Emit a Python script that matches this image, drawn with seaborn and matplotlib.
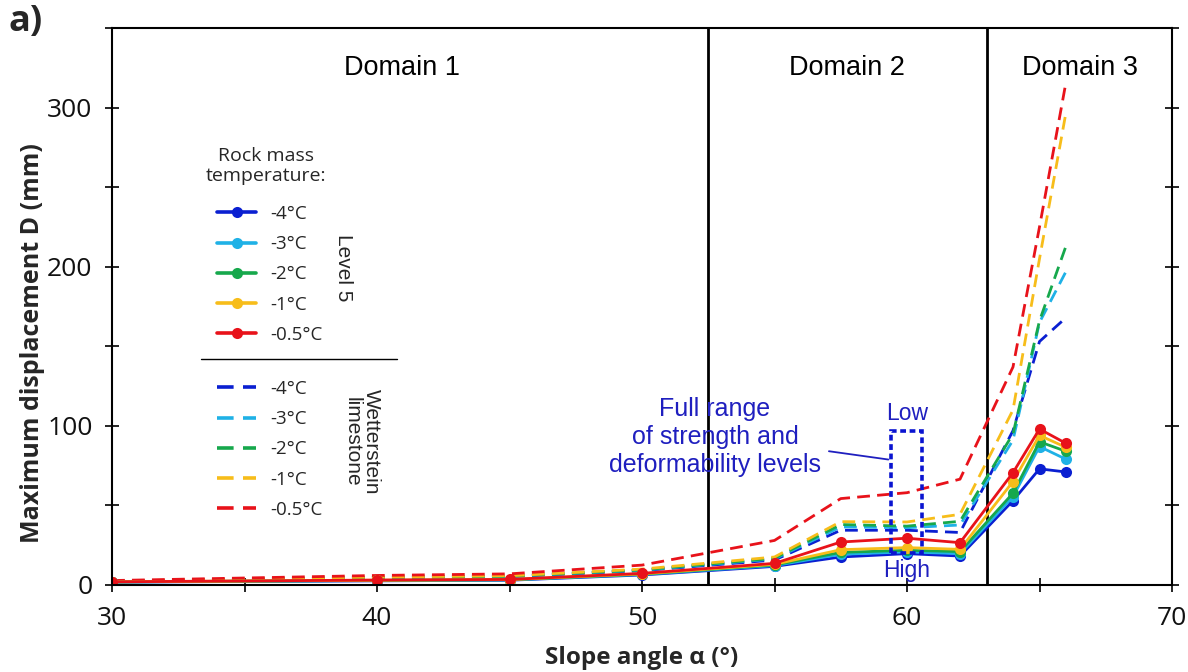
import matplotlib
matplotlib.use("Agg")
import matplotlib.pyplot as plt
import pandas as pd
import seaborn as sns
from matplotlib.lines import Line2D
from matplotlib.patches import Rectangle
from matplotlib.ticker import MultipleLocator

# Slope angles (deg) at which the models were evaluated
slope_angles = [30, 40, 45, 50, 55, 57.5, 60, 62, 64, 65, 66]
temperatures = ["-4°C", "-3°C", "-2°C", "-1°C", "-0.5°C"]

# Maximum displacement D (mm), strength/deformability level 5
level5_m4 = [1.8, 2.6, 3.0, 6.3, 11.7, 17.6, 19.7, 18.2, 53.0, 73.0, 71.0]
level5_m3 = [1.9, 2.8, 3.2, 6.6, 12.2, 19.3, 20.8, 19.7, 55.5, 87.0, 79.0]
level5_m2 = [1.9, 2.9, 3.3, 6.8, 12.6, 20.5, 21.8, 21.0, 57.7, 90.0, 84.0]
level5_m1 = [2.0, 3.0, 3.4, 7.0, 13.0, 22.2, 23.5, 22.4, 65.0, 94.0, 86.5]
level5_m05 = [2.0, 3.1, 3.5, 7.3, 13.6, 27.0, 29.4, 26.6, 70.6, 98.0, 89.0]

# Maximum displacement D (mm), Wetterstein limestone
wett_m4 = [2.3, 4.5, 5.2, 9.0, 15.7, 34.4, 34.4, 33.0, 97.0, 153.0, 168.0]
wett_m3 = [2.4, 4.7, 5.4, 9.3, 16.4, 36.5, 36.0, 37.7, 91.0, 165.0, 197.0]
wett_m2 = [2.4, 4.8, 5.5, 9.5, 16.8, 38.0, 37.0, 40.0, 95.0, 166.0, 213.0]
wett_m1 = [2.5, 5.0, 5.8, 10.0, 17.6, 39.8, 39.6, 44.4, 110.0, 205.0, 297.0]
wett_m05 = [2.8, 6.0, 7.0, 12.5, 28.0, 54.3, 58.0, 66.5, 137.0, 225.0, 316.0]

domain_bounds = [52.5, 63]
domain_labels = ["Domain 1", "Domain 2", "Domain 3"]

colors = ["#0a1fd1", "#1fb1e6", "#16a84c", "#f7bd1a", "#e8121a"]
ann_blue = "#1f1fbf"


def long_frame(series, model):
    rows = []
    for temp, vals in zip(temperatures, series):
        for a, v in zip(slope_angles, vals):
            rows.append({"angle": a, "disp": v, "temp": temp, "model": model})
    return pd.DataFrame(rows)


df_l5 = long_frame([level5_m4, level5_m3, level5_m2, level5_m1, level5_m05], "Level 5")
df_wl = long_frame([wett_m4, wett_m3, wett_m2, wett_m1, wett_m05], "Wetterstein limestone")

sns.set_theme(style="white")
plt.rcParams["font.family"] = ["Open Sans", "DejaVu Sans"]

fig = plt.figure(figsize=(11.88, 6.72), dpi=100)
ax = fig.add_axes([112 / 1188, 1 - 585 / 672, 1060 / 1188, 557 / 672])

palette = dict(zip(temperatures, colors))

sns.lineplot(data=df_wl, x="angle", y="disp", hue="temp", hue_order=temperatures,
             style="model", dashes={"Wetterstein limestone": (4.6, 2.6)},
             palette=palette, linewidth=2.0, estimator=None, sort=False,
             legend=False, ax=ax)
sns.lineplot(data=df_l5, x="angle", y="disp", hue="temp", hue_order=temperatures,
             palette=palette, marker="o", markersize=8, markeredgewidth=0,
             linewidth=2.0, estimator=None, sort=False, legend=False, ax=ax)

dashed_handles = ax.lines[:5]
solid_handles = ax.lines[5:10]

for xb in domain_bounds:
    ax.axvline(xb, color="black", lw=2.0, zorder=1)

ax.set_xlim(30, 70)
ax.set_ylim(0, 350)
ax.xaxis.set_major_locator(MultipleLocator(10))
ax.xaxis.set_minor_locator(MultipleLocator(5))
ax.yaxis.set_major_locator(MultipleLocator(100))
ax.yaxis.set_minor_locator(MultipleLocator(50))
ax.tick_params(which="both", direction="inout", length=10, width=1.2, color="black",
               left=True, right=True, bottom=True, top=False)
ax.tick_params(axis="x", which="major", labelsize=19, pad=10, labelcolor="#111111")
ax.tick_params(axis="y", which="major", labelsize=19, pad=9, labelcolor="#111111")
for sp in ax.spines.values():
    sp.set_color("black")
    sp.set_linewidth(1.5)

ax.set_xlabel("Slope angle α (°)", fontsize=17.5, fontweight="bold", labelpad=11)
ax.set_ylabel("Maximum displacement D (mm)", fontsize=18, fontweight="bold")
ax.yaxis.set_label_coords(-0.063, 0.434)

# Domain headings
for label, xc in zip(domain_labels, [40.94, 57.74, 66.53]):
    ax.text(xc, 325, label, ha="center", va="center", fontsize=19.5,
            family="Liberation Sans", color="black")

# Strength / deformability range marker
ax.add_patch(Rectangle((59.4, 20), 1.15, 77, fill=False, ec="#0a14d0", lw=2.6,
                       ls=(0, (1.6, 1.0)), zorder=5))
ax.text(60.0, 108, "Low", ha="center", va="center", fontsize=16.5,
        family="Liberation Sans", color=ann_blue)
ax.text(60.0, 9.0, "High", ha="center", va="center", fontsize=16.5,
        family="Liberation Sans", color=ann_blue)
ax.text(52.75, 93, "Full range\nof strength and\ndeformability levels", ha="center",
        va="center", fontsize=18, family="Liberation Sans", color=ann_blue,
        linespacing=1.2)
ax.annotate("", xy=(59.4, 78.6), xytext=(56.95, 84.3),
            arrowprops=dict(arrowstyle="-", color=ann_blue, lw=1.3))

# Legend
fig.text(266 / 1188, 1 - 166 / 672, "Rock mass\ntemperature:", ha="center", va="center",
         fontsize=14, linespacing=1.1)
leg_kw = dict(loc="upper left", bbox_transform=fig.transFigure, frameon=False,
              fontsize=13.5, handlelength=2.1, handletextpad=0.75, labelspacing=0.65,
              borderpad=0, borderaxespad=0)
leg1 = ax.legend(handles=list(solid_handles), labels=temperatures,
                 bbox_to_anchor=(217 / 1188, 1 - 205 / 672), **leg_kw)
ax.add_artist(leg1)
leg2 = ax.legend(handles=list(dashed_handles), labels=temperatures,
                 bbox_to_anchor=(217 / 1188, 1 - 380 / 672), **leg_kw)
for leg in (leg1, leg2):
    for h in leg.legend_handles:
        h.set_linewidth(2.6)
fig.add_artist(Line2D([201 / 1188, 397 / 1188], [1 - 359 / 672] * 2,
                      transform=fig.transFigure, color="black", lw=1.0))
fig.text(343 / 1188, 1 - 268 / 672, "Level 5", rotation=-90, ha="center", va="center",
         fontsize=15, family="Liberation Sans")
fig.text(362 / 1188, 1 - 442 / 672, "Wetterstein\nlimestone", rotation=-90, ha="center",
         va="center", fontsize=15, family="Liberation Sans", linespacing=1.05)

fig.text(8 / 1188, 1 - 22 / 672, "a)", fontsize=26, fontweight="bold", va="center",
         ha="left")

fig.savefig("out.png", dpi=100)
